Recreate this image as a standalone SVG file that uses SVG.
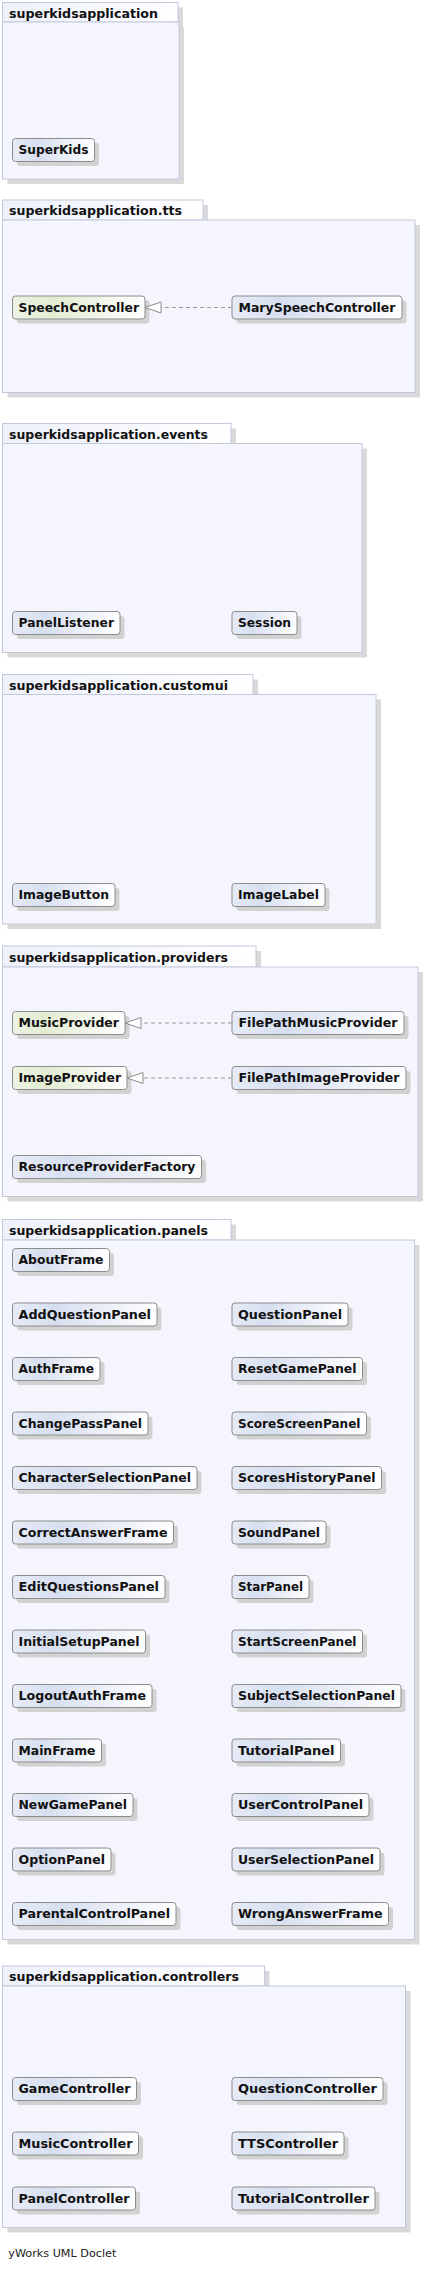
<svg xmlns="http://www.w3.org/2000/svg" width="428" height="2270" viewBox="0 0 428 2270">
<defs>
<linearGradient id="clsGrad" x1="0" y1="0" x2="1" y2="0">
<stop offset="0" stop-color="#e6ebf6"/>
<stop offset="0.3" stop-color="#d7dff0"/>
<stop offset="1" stop-color="#ffffff"/>
</linearGradient>
<linearGradient id="ifcGrad" x1="0" y1="0" x2="1" y2="0">
<stop offset="0" stop-color="#edf3e3"/>
<stop offset="0.3" stop-color="#e2ecd2"/>
<stop offset="1" stop-color="#ffffff"/>
</linearGradient>
<linearGradient id="tabGrad" x1="0" y1="0" x2="1" y2="0">
<stop offset="0" stop-color="#eef0fa"/>
<stop offset="1" stop-color="#ffffff"/>
</linearGradient>
<marker id="realize" markerWidth="18" markerHeight="14" refX="16.5" refY="6.5" orient="auto" markerUnits="userSpaceOnUse">
<polygon points="16.5,6.5 0.5,1 0.5,12" fill="#ffffff" stroke="#8c8c8c" stroke-width="1"/>
</marker>
</defs>
<style>
.psh{fill:#d9d9d9}
.body{fill:#f5f6fd;stroke:#c3c9dd;stroke-width:1}
.tab{fill:url(#tabGrad);stroke:#c3c9dd;stroke-width:1}
.title{font-family:"DejaVu Sans","Liberation Sans",sans-serif;font-weight:bold;font-size:13px;fill:#111}
.nsh{fill:#d2d2d2}
.cls{fill:url(#clsGrad);stroke:#8c8c8c;stroke-width:1}
.ifc{fill:url(#ifcGrad);stroke:#8c8c8c;stroke-width:1}
.lbl{font-family:"DejaVu Sans","Liberation Sans",sans-serif;font-weight:bold;font-size:12px;fill:#111}
.edge{fill:none;stroke:#9a9a9a;stroke-width:1;stroke-dasharray:4,3}
.foot{font-family:"DejaVu Sans","Liberation Sans",sans-serif;font-size:11px;fill:#222}
</style>
<rect width="428" height="2270" fill="#ffffff"/>

<!-- package superkidsapplication -->
<g id="pkg-superkidsapplication">
<rect class="psh" x="7.5" y="7.5" width="175.5" height="19.5"/>
<rect class="psh" x="7.5" y="27" width="176.5" height="157"/>
<rect class="tab" x="2.5" y="2.5" width="175.5" height="19.5"/>
<rect class="body" x="2.5" y="22" width="176.5" height="157"/>
<text class="title" x="9" y="17.5" textLength="149" lengthAdjust="spacingAndGlyphs">superkidsapplication</text>
</g>
<g id="SuperKids">
<rect class="nsh" x="17" y="143" width="82" height="23" rx="3"/>
<rect class="cls" x="12.5" y="138.5" width="82" height="23" rx="3"/>
<text class="lbl" x="18.5" y="154" textLength="70" lengthAdjust="spacingAndGlyphs">SuperKids</text>
</g>

<!-- package tts -->
<g id="pkg-tts">
<rect class="psh" x="7.5" y="205" width="200.5" height="20"/>
<rect class="psh" x="7.5" y="225" width="412.5" height="172.5"/>
<rect class="tab" x="2.5" y="200" width="200.5" height="20"/>
<rect class="body" x="2.5" y="220" width="412.5" height="172.5"/>
<text class="title" x="9" y="215" textLength="173" lengthAdjust="spacingAndGlyphs">superkidsapplication.tts</text>
</g>
<g id="SpeechController">
<rect class="nsh" x="17" y="300.5" width="132.5" height="23" rx="3"/>
<rect class="ifc" x="12.5" y="296" width="132.5" height="23" rx="3"/>
<text class="lbl" x="18.5" y="311.5" textLength="120.5" lengthAdjust="spacingAndGlyphs">SpeechController</text>
</g>
<g id="MarySpeechController">
<rect class="nsh" x="236.5" y="300.5" width="170" height="23" rx="3"/>
<rect class="cls" x="232" y="296" width="170" height="23" rx="3"/>
<text class="lbl" x="238.5" y="311.5" textLength="157" lengthAdjust="spacingAndGlyphs">MarySpeechController</text>
</g>

<!-- package events -->
<g id="pkg-events">
<rect class="psh" x="7.5" y="428.5" width="228.5" height="20"/>
<rect class="psh" x="7.5" y="448.5" width="359.5" height="209"/>
<rect class="tab" x="2.5" y="423.5" width="228.5" height="20"/>
<rect class="body" x="2.5" y="443.5" width="359.5" height="209"/>
<text class="title" x="9" y="438.5" textLength="199" lengthAdjust="spacingAndGlyphs">superkidsapplication.events</text>
</g>
<g id="PanelListener">
<rect class="nsh" x="17" y="616" width="107.5" height="23" rx="3"/>
<rect class="cls" x="12.5" y="611.5" width="107.5" height="23" rx="3"/>
<text class="lbl" x="18.5" y="627" textLength="95.5" lengthAdjust="spacingAndGlyphs">PanelListener</text>
</g>
<g id="Session">
<rect class="nsh" x="236.5" y="616" width="65" height="23" rx="3"/>
<rect class="cls" x="232" y="611.5" width="65" height="23" rx="3"/>
<text class="lbl" x="238" y="627" textLength="53" lengthAdjust="spacingAndGlyphs">Session</text>
</g>

<!-- package customui -->
<g id="pkg-customui">
<rect class="psh" x="7.5" y="679.5" width="250.5" height="20"/>
<rect class="psh" x="7.5" y="699.5" width="373.5" height="229.5"/>
<rect class="tab" x="2.5" y="674.5" width="250.5" height="20"/>
<rect class="body" x="2.5" y="694.5" width="373.5" height="229.5"/>
<text class="title" x="9" y="689.5" textLength="219" lengthAdjust="spacingAndGlyphs">superkidsapplication.customui</text>
</g>
<g id="ImageButton">
<rect class="nsh" x="17" y="888" width="102.5" height="23" rx="3"/>
<rect class="cls" x="12.5" y="883.5" width="102.5" height="23" rx="3"/>
<text class="lbl" x="18.5" y="899" textLength="90.5" lengthAdjust="spacingAndGlyphs">ImageButton</text>
</g>
<g id="ImageLabel">
<rect class="nsh" x="236.5" y="888" width="93" height="23" rx="3"/>
<rect class="cls" x="232" y="883.5" width="93" height="23" rx="3"/>
<text class="lbl" x="238" y="899" textLength="81" lengthAdjust="spacingAndGlyphs">ImageLabel</text>
</g>

<!-- package providers -->
<g id="pkg-providers">
<rect class="psh" x="7.5" y="951" width="253.5" height="21"/>
<rect class="psh" x="7.5" y="972" width="415.5" height="229.5"/>
<rect class="tab" x="2.5" y="946" width="253.5" height="21"/>
<rect class="body" x="2.5" y="967" width="415.5" height="229.5"/>
<text class="title" x="9" y="961.5" textLength="219" lengthAdjust="spacingAndGlyphs">superkidsapplication.providers</text>
</g>
<g id="MusicProvider">
<rect class="nsh" x="17" y="1016" width="112.5" height="23" rx="3"/>
<rect class="ifc" x="12.5" y="1011.5" width="112.5" height="23" rx="3"/>
<text class="lbl" x="18.5" y="1027" textLength="100.5" lengthAdjust="spacingAndGlyphs">MusicProvider</text>
</g>
<g id="FilePathMusicProvider">
<rect class="nsh" x="236.5" y="1016" width="172" height="23" rx="3"/>
<rect class="cls" x="232" y="1011.5" width="172" height="23" rx="3"/>
<text class="lbl" x="238.5" y="1027" textLength="159" lengthAdjust="spacingAndGlyphs">FilePathMusicProvider</text>
</g>
<g id="ImageProvider">
<rect class="nsh" x="17" y="1071" width="114.5" height="23" rx="3"/>
<rect class="ifc" x="12.5" y="1066.5" width="114.5" height="23" rx="3"/>
<text class="lbl" x="18.5" y="1082" textLength="102.5" lengthAdjust="spacingAndGlyphs">ImageProvider</text>
</g>
<g id="FilePathImageProvider">
<rect class="nsh" x="236.5" y="1071" width="174" height="23" rx="3"/>
<rect class="cls" x="232" y="1066.5" width="174" height="23" rx="3"/>
<text class="lbl" x="238.5" y="1082" textLength="161" lengthAdjust="spacingAndGlyphs">FilePathImageProvider</text>
</g>
<g id="ResourceProviderFactory">
<rect class="nsh" x="17" y="1160" width="189" height="23" rx="3"/>
<rect class="cls" x="12.5" y="1155.5" width="189" height="23" rx="3"/>
<text class="lbl" x="18.5" y="1171" textLength="177" lengthAdjust="spacingAndGlyphs">ResourceProviderFactory</text>
</g>

<!-- package panels -->
<g id="pkg-panels">
<rect class="psh" x="7.5" y="1224.5" width="228.5" height="20.5"/>
<rect class="psh" x="7.5" y="1245" width="412" height="699.5"/>
<rect class="tab" x="2.5" y="1219.5" width="228.5" height="20.5"/>
<rect class="body" x="2.5" y="1240" width="412" height="699.5"/>
<text class="title" x="9" y="1235" textLength="199" lengthAdjust="spacingAndGlyphs">superkidsapplication.panels</text>
</g>
<g id="AboutFrame"><rect class="nsh" x="17" y="1253" width="97" height="23" rx="3"/><rect class="cls" x="12.5" y="1248.5" width="97" height="23" rx="3"/><text class="lbl" x="18.5" y="1264" textLength="85" lengthAdjust="spacingAndGlyphs">AboutFrame</text></g>
<g id="AddQuestionPanel"><rect class="nsh" x="17" y="1307.5" width="144.5" height="23" rx="3"/><rect class="cls" x="12.5" y="1303" width="144.5" height="23" rx="3"/><text class="lbl" x="18.5" y="1318.5" textLength="132.5" lengthAdjust="spacingAndGlyphs">AddQuestionPanel</text></g>
<g id="QuestionPanel"><rect class="nsh" x="236.5" y="1307.5" width="116" height="23" rx="3"/><rect class="cls" x="232" y="1303" width="116" height="23" rx="3"/><text class="lbl" x="238" y="1318.5" textLength="104" lengthAdjust="spacingAndGlyphs">QuestionPanel</text></g>
<g id="AuthFrame"><rect class="nsh" x="17" y="1362" width="87.5" height="23" rx="3"/><rect class="cls" x="12.5" y="1357.5" width="87.5" height="23" rx="3"/><text class="lbl" x="18.5" y="1373" textLength="75.5" lengthAdjust="spacingAndGlyphs">AuthFrame</text></g>
<g id="ResetGamePanel"><rect class="nsh" x="236.5" y="1362" width="130.5" height="23" rx="3"/><rect class="cls" x="232" y="1357.5" width="130.5" height="23" rx="3"/><text class="lbl" x="238" y="1373" textLength="118.5" lengthAdjust="spacingAndGlyphs">ResetGamePanel</text></g>
<g id="ChangePassPanel"><rect class="nsh" x="17" y="1416.5" width="135.5" height="23" rx="3"/><rect class="cls" x="12.5" y="1412" width="135.5" height="23" rx="3"/><text class="lbl" x="18.5" y="1427.5" textLength="123.5" lengthAdjust="spacingAndGlyphs">ChangePassPanel</text></g>
<g id="ScoreScreenPanel"><rect class="nsh" x="236.5" y="1416.5" width="134.5" height="23" rx="3"/><rect class="cls" x="232" y="1412" width="134.5" height="23" rx="3"/><text class="lbl" x="238" y="1427.5" textLength="122.5" lengthAdjust="spacingAndGlyphs">ScoreScreenPanel</text></g>
<g id="CharacterSelectionPanel"><rect class="nsh" x="17" y="1471" width="184.5" height="23" rx="3"/><rect class="cls" x="12.5" y="1466.5" width="184.5" height="23" rx="3"/><text class="lbl" x="18.5" y="1482" textLength="172.5" lengthAdjust="spacingAndGlyphs">CharacterSelectionPanel</text></g>
<g id="ScoresHistoryPanel"><rect class="nsh" x="236.5" y="1471" width="149.5" height="23" rx="3"/><rect class="cls" x="232" y="1466.5" width="149.5" height="23" rx="3"/><text class="lbl" x="238" y="1482" textLength="137.5" lengthAdjust="spacingAndGlyphs">ScoresHistoryPanel</text></g>
<g id="CorrectAnswerFrame"><rect class="nsh" x="17" y="1525.5" width="161" height="23" rx="3"/><rect class="cls" x="12.5" y="1521" width="161" height="23" rx="3"/><text class="lbl" x="18.5" y="1536.5" textLength="149" lengthAdjust="spacingAndGlyphs">CorrectAnswerFrame</text></g>
<g id="SoundPanel"><rect class="nsh" x="236.5" y="1525.5" width="94" height="23" rx="3"/><rect class="cls" x="232" y="1521" width="94" height="23" rx="3"/><text class="lbl" x="238" y="1536.5" textLength="82" lengthAdjust="spacingAndGlyphs">SoundPanel</text></g>
<g id="EditQuestionsPanel"><rect class="nsh" x="17" y="1580" width="152.5" height="23" rx="3"/><rect class="cls" x="12.5" y="1575.5" width="152.5" height="23" rx="3"/><text class="lbl" x="18.5" y="1591" textLength="140.5" lengthAdjust="spacingAndGlyphs">EditQuestionsPanel</text></g>
<g id="StarPanel"><rect class="nsh" x="236.5" y="1580" width="77" height="23" rx="3"/><rect class="cls" x="232" y="1575.5" width="77" height="23" rx="3"/><text class="lbl" x="238" y="1591" textLength="65" lengthAdjust="spacingAndGlyphs">StarPanel</text></g>
<g id="InitialSetupPanel"><rect class="nsh" x="17" y="1634.5" width="133" height="23" rx="3"/><rect class="cls" x="12.5" y="1630" width="133" height="23" rx="3"/><text class="lbl" x="18.5" y="1645.5" textLength="121" lengthAdjust="spacingAndGlyphs">InitialSetupPanel</text></g>
<g id="StartScreenPanel"><rect class="nsh" x="236.5" y="1634.5" width="130.5" height="23" rx="3"/><rect class="cls" x="232" y="1630" width="130.5" height="23" rx="3"/><text class="lbl" x="238" y="1645.5" textLength="118.5" lengthAdjust="spacingAndGlyphs">StartScreenPanel</text></g>
<g id="LogoutAuthFrame"><rect class="nsh" x="17" y="1689" width="139.5" height="23" rx="3"/><rect class="cls" x="12.5" y="1684.5" width="139.5" height="23" rx="3"/><text class="lbl" x="18.5" y="1700" textLength="127.5" lengthAdjust="spacingAndGlyphs">LogoutAuthFrame</text></g>
<g id="SubjectSelectionPanel"><rect class="nsh" x="236.5" y="1689" width="169" height="23" rx="3"/><rect class="cls" x="232" y="1684.5" width="169" height="23" rx="3"/><text class="lbl" x="238" y="1700" textLength="157" lengthAdjust="spacingAndGlyphs">SubjectSelectionPanel</text></g>
<g id="MainFrame"><rect class="nsh" x="17" y="1743.5" width="89" height="23" rx="3"/><rect class="cls" x="12.5" y="1739" width="89" height="23" rx="3"/><text class="lbl" x="18.5" y="1754.5" textLength="77" lengthAdjust="spacingAndGlyphs">MainFrame</text></g>
<g id="TutorialPanel"><rect class="nsh" x="236.5" y="1743.5" width="108.5" height="23" rx="3"/><rect class="cls" x="232" y="1739" width="108.5" height="23" rx="3"/><text class="lbl" x="238" y="1754.5" textLength="96.5" lengthAdjust="spacingAndGlyphs">TutorialPanel</text></g>
<g id="NewGamePanel"><rect class="nsh" x="17" y="1798" width="120.5" height="23" rx="3"/><rect class="cls" x="12.5" y="1793.5" width="120.5" height="23" rx="3"/><text class="lbl" x="18.5" y="1809" textLength="108.5" lengthAdjust="spacingAndGlyphs">NewGamePanel</text></g>
<g id="UserControlPanel"><rect class="nsh" x="236.5" y="1798" width="137" height="23" rx="3"/><rect class="cls" x="232" y="1793.5" width="137" height="23" rx="3"/><text class="lbl" x="238" y="1809" textLength="125" lengthAdjust="spacingAndGlyphs">UserControlPanel</text></g>
<g id="OptionPanel"><rect class="nsh" x="17" y="1852.5" width="98.5" height="23" rx="3"/><rect class="cls" x="12.5" y="1848" width="98.5" height="23" rx="3"/><text class="lbl" x="18.5" y="1863.5" textLength="86.5" lengthAdjust="spacingAndGlyphs">OptionPanel</text></g>
<g id="UserSelectionPanel"><rect class="nsh" x="236.5" y="1852.5" width="148" height="23" rx="3"/><rect class="cls" x="232" y="1848" width="148" height="23" rx="3"/><text class="lbl" x="238" y="1863.5" textLength="136" lengthAdjust="spacingAndGlyphs">UserSelectionPanel</text></g>
<g id="ParentalControlPanel"><rect class="nsh" x="17" y="1907" width="163.5" height="23" rx="3"/><rect class="cls" x="12.5" y="1902.5" width="163.5" height="23" rx="3"/><text class="lbl" x="18.5" y="1918" textLength="151.5" lengthAdjust="spacingAndGlyphs">ParentalControlPanel</text></g>
<g id="WrongAnswerFrame"><rect class="nsh" x="236.5" y="1907" width="156.5" height="23" rx="3"/><rect class="cls" x="232" y="1902.5" width="156.5" height="23" rx="3"/><text class="lbl" x="238" y="1918" textLength="144.5" lengthAdjust="spacingAndGlyphs">WrongAnswerFrame</text></g>

<!-- package controllers -->
<g id="pkg-controllers">
<rect class="psh" x="7.5" y="1971" width="262" height="20"/>
<rect class="psh" x="7.5" y="1991" width="403" height="241.5"/>
<rect class="tab" x="2.5" y="1966" width="262" height="20"/>
<rect class="body" x="2.5" y="1986" width="403" height="241.5"/>
<text class="title" x="9" y="1981" textLength="230" lengthAdjust="spacingAndGlyphs">superkidsapplication.controllers</text>
</g>
<g id="GameController"><rect class="nsh" x="17" y="2082" width="124" height="23" rx="3"/><rect class="cls" x="12.5" y="2077.5" width="124" height="23" rx="3"/><text class="lbl" x="18.5" y="2093" textLength="112" lengthAdjust="spacingAndGlyphs">GameController</text></g>
<g id="QuestionController"><rect class="nsh" x="236.5" y="2082" width="151" height="23" rx="3"/><rect class="cls" x="232" y="2077.5" width="151" height="23" rx="3"/><text class="lbl" x="238" y="2093" textLength="139" lengthAdjust="spacingAndGlyphs">QuestionController</text></g>
<g id="MusicController"><rect class="nsh" x="17" y="2136.5" width="126" height="23" rx="3"/><rect class="cls" x="12.5" y="2132" width="126" height="23" rx="3"/><text class="lbl" x="18.5" y="2147.5" textLength="114" lengthAdjust="spacingAndGlyphs">MusicController</text></g>
<g id="TTSController"><rect class="nsh" x="236.5" y="2136.5" width="112" height="23" rx="3"/><rect class="cls" x="232" y="2132" width="112" height="23" rx="3"/><text class="lbl" x="238" y="2147.5" textLength="100" lengthAdjust="spacingAndGlyphs">TTSController</text></g>
<g id="PanelController"><rect class="nsh" x="17" y="2191.5" width="123" height="23" rx="3"/><rect class="cls" x="12.5" y="2187" width="123" height="23" rx="3"/><text class="lbl" x="18.5" y="2202.5" textLength="111" lengthAdjust="spacingAndGlyphs">PanelController</text></g>
<g id="TutorialController"><rect class="nsh" x="236.5" y="2191.5" width="143" height="23" rx="3"/><rect class="cls" x="232" y="2187" width="143" height="23" rx="3"/><text class="lbl" x="238" y="2202.5" textLength="131" lengthAdjust="spacingAndGlyphs">TutorialController</text></g>

<!-- connectors -->
<g id="connectors">
<line class="edge" x1="232" y1="307.5" x2="161" y2="307.5"/>
<polygon points="145,307.5 161,302 161,313" fill="#ffffff" stroke="#8c8c8c" stroke-width="1"/>
<line class="edge" x1="232" y1="1023" x2="141" y2="1023"/>
<polygon points="125,1023 141,1017.5 141,1028.5" fill="#ffffff" stroke="#8c8c8c" stroke-width="1"/>
<line class="edge" x1="232" y1="1078" x2="143" y2="1078"/>
<polygon points="127,1078 143,1072.5 143,1083.5" fill="#ffffff" stroke="#8c8c8c" stroke-width="1"/>
</g>

<text class="foot" x="8.3" y="2257" textLength="108" lengthAdjust="spacingAndGlyphs">yWorks UML Doclet</text>
</svg>
